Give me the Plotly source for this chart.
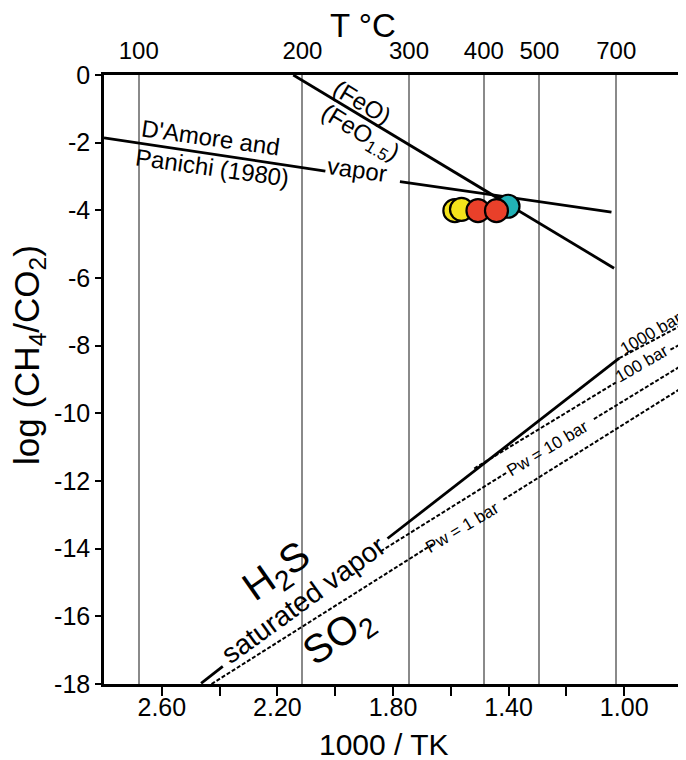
import plotly.graph_objects as go

# ---- data ----
# bottom axis ticks (1000/T K)
x_ticks = [2.60, 2.40, 2.20, 2.00, 1.80, 1.60, 1.40, 1.20, 1.00, 0.80]
x_tick_labels = ["2.60", "", "2.20", "", "1.80", "", "1.40", "", "1.00", ""]
y_ticks = [0, -2, -4, -6, -8, -10, -12, -14, -16, -18]
y_tick_labels = ["0", "-2", "-4", "-6", "-8", "-10", "-12", "-14", "-16", "-18"]
# top axis temperatures (deg C)
temps_c = [100, 200, 300, 400, 500, 700]

# buffer line (FeO)/(FeO1.5)
feo_x = [2.145, 1.035]
feo_y = [0.0, -5.71]
# D'Amore and Panichi (1980) vapor line (gap for "vapor" label)
dap_x = [2.80, 2.034, None, 1.776, 1.044]
dap_y = [-1.86, -2.84, None, -3.15, -4.05]
# saturated vapor (solid) with gap for label
sat_x = [2.464, 2.389, None, 1.819, 1.017]
sat_y = [-17.98, -17.48, None, -13.70, -8.37]
# constant Pw lines (dashed)
pw1_x = [2.428, 1.659, None, 1.418, 0.80]
pw1_y = [-18.0, -13.85, None, -12.55, -9.245]
pw10_x = [1.843, 1.408, None, 1.105, 0.80]
pw10_y = [-14.08, -11.76, None, -10.17, -8.58]
pw100_x = [1.519, 1.029, None, 0.840, 0.80]
pw100_y = [-11.63, -9.09, None, -8.12, -7.93]
pw1000_x = [1.017, 0.80]
pw1000_y = [-8.37, -7.39]

# samples
samp_x = [1.586, 1.563, 1.402, 1.506, 1.442]
samp_y = [-4.01, -3.97, -3.88, -4.01, -4.01]
samp_c = ["#f3e31b", "#f3e31b", "#22b1b6", "#e9402a", "#e9402a"]

FONT = "Liberation Sans, Arial, sans-serif"

fig = go.Figure()

line_black = dict(color="black", width=2.8)
fig.add_trace(go.Scatter(x=feo_x, y=feo_y, mode="lines", line=line_black, hoverinfo="skip"))
fig.add_trace(go.Scatter(x=dap_x, y=dap_y, mode="lines", line=line_black, hoverinfo="skip"))
fig.add_trace(go.Scatter(x=sat_x, y=sat_y, mode="lines", line=line_black, hoverinfo="skip"))
dash = dict(color="black", width=2, dash="4px,2px")
for xs, ys in [(pw1_x, pw1_y), (pw10_x, pw10_y), (pw100_x, pw100_y), (pw1000_x, pw1000_y)]:
    fig.add_trace(go.Scatter(x=xs, y=ys, mode="lines", line=dash, hoverinfo="skip"))

for xv, yv, c in zip(samp_x, samp_y, samp_c):
    fig.add_trace(go.Scatter(x=[xv], y=[yv], mode="markers",
                             marker=dict(size=23, color=c, line=dict(color="black", width=2.2)),
                             hoverinfo="skip"))

top_pos = [1000.0 / (t + 273.15) for t in temps_c]
fig.add_trace(go.Scatter(x=top_pos, y=[-18] * len(top_pos), xaxis="x2", mode="markers",
                         marker=dict(opacity=0), hoverinfo="skip"))

def ann(x, y, text, size, angle=0):
    fig.add_annotation(x=x, y=y, xref="x", yref="y", text=text, showarrow=False,
                       textangle=angle, font=dict(family=FONT, size=size, color="black"))

ann(1.905, -0.80, "(FeO)", 24, 31)
ann(1.915, -1.72, "(FeO<sub>1.5</sub>)", 24, 31)
ann(2.430, -1.84, "D'Amore and", 24, 8)
ann(2.425, -2.72, "Panichi (1980)", 24, 8)
ann(1.925, -2.80, "vapor", 24, 8)
ann(0.909, -7.63, "1000 bar", 17, -30)
ann(0.937, -8.54, "100 bar", 17, -30)
ann(1.265, -11.05, "Pw = 10 bar", 17, -31)
ann(1.560, -13.36, "Pw = 1 bar", 17, -31)
ann(2.200, -14.72, "H<sub>2</sub>S", 40, -35)
ann(1.990, -16.60, "SO<sub>2</sub>", 40, -35)
ann(2.108, -15.50, "saturated vapor", 28, -36)

# axis titles
fig.add_annotation(x=0.4475, y=1.082, xref="paper", yref="paper", text="T °C", showarrow=False,
                   xanchor="center", yanchor="middle", font=dict(family=FONT, size=33))
fig.add_annotation(x=0.485, y=-0.100, xref="paper", yref="paper", text="1000 / TK", showarrow=False,
                   xanchor="center", yanchor="middle", font=dict(family=FONT, size=30))
fig.add_annotation(x=-0.13, y=0.54, xref="paper", yref="paper",
                   text="log (CH<sub>4</sub>/CO<sub>2</sub>)", showarrow=False, textangle=-90,
                   xanchor="center", yanchor="middle", font=dict(family=FONT, size=35))

fig.update_layout(
    width=686, height=760,
    margin=dict(l=96, r=9, t=67, b=84),
    paper_bgcolor="white", plot_bgcolor="white",
    showlegend=False,
    font=dict(family=FONT, color="black"),
    xaxis=dict(range=[2.80, 0.80], tickvals=x_ticks, ticktext=x_tick_labels,
               ticks="outside", ticklen=9, tickwidth=2.2, tickcolor="black",
               ticklabelstandoff=-10,
               showline=True, linewidth=2.5, linecolor="black", mirror=True,
               showgrid=False, zeroline=False, tickfont=dict(size=25)),
    xaxis2=dict(range=[2.80, 0.80], overlaying="x", side="top",
                tickvals=top_pos, ticktext=[str(t) for t in temps_c],
                ticks="", showgrid=True, gridcolor="#8a8a8a", gridwidth=1.5,
                ticklabelstandoff=10,
                showline=False, zeroline=False, tickfont=dict(size=24)),
    yaxis=dict(range=[-18, 0], tickvals=y_ticks, ticktext=y_tick_labels, ticks="outside", ticklen=6,
               tickwidth=2.2, tickcolor="black", showline=True, linewidth=2.5,
               linecolor="black", mirror=True, showgrid=False, zeroline=False,
               tickfont=dict(size=25)),
)

fig.write_html("out.html")
